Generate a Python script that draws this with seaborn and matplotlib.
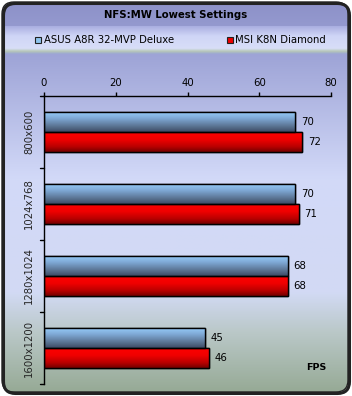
import numpy as np
import pandas as pd
import matplotlib
matplotlib.use("Agg")
import matplotlib.pyplot as plt
import seaborn as sns
from matplotlib.patches import FancyBboxPatch, Rectangle
from matplotlib.colors import LinearSegmentedColormap
from matplotlib import font_manager

title = "NFS:MW Lowest Settings"
resolutions = ["800x600", "1024x768", "1280x1024", "1600x1200"]
series_names = ["ASUS A8R 32-MVP Deluxe", "MSI K8N Diamond"]
asus_fps = [70, 70, 68, 45]
msi_fps = [72, 71, 68, 46]
x_ticks = [0, 20, 40, 60, 80]
unit_label = "FPS"

df = pd.DataFrame({
    "res": resolutions * 2,
    "fps": asus_fps + msi_fps,
    "board": [series_names[0]] * 4 + [series_names[1]] * 4,
})

sns.set_style("white")
names = {f.name for f in font_manager.fontManager.ttflist}
fam = "DejaVu Sans Condensed" if "DejaVu Sans Condensed" in names else "DejaVu Sans"
plt.rcParams["font.family"] = [fam, "DejaVu Sans"]
FS = 8.0 if fam == "DejaVu Sans Condensed" else 7.3

W, H = 352, 396
fig = plt.figure(figsize=(W / 100, H / 100), dpi=100)
fig.patch.set_facecolor("white")

# background panel
bg = fig.add_axes([0, 0, 1, 1], zorder=0)
bg.set_xlim(0, W)
bg.set_ylim(H, 0)
bg.axis("off")
bg.add_patch(Rectangle((0, 0), W, H, facecolor="white", edgecolor="none"))
stops = [(0.0, "#8c90c8"), (0.15, "#a0a6d8"), (0.45, "#d2d9f8"), (0.74, "#d2daf4"),
         (0.84, "#bac8c8"), (1.0, "#94a892")]
cmap_bg = LinearSegmentedColormap.from_list("bg", stops)
grad = np.linspace(0, 1, 256).reshape(-1, 1)
panel = FancyBboxPatch((2, 2), W - 6, H - 6, boxstyle="round,pad=0,rounding_size=12",
                       facecolor="none", edgecolor="none", transform=bg.transData)
bg.add_patch(panel)
im = bg.imshow(grad, cmap=cmap_bg, extent=[0, W, H, 0], aspect="auto", zorder=1)
im.set_clip_path(panel)
# legend band
band_stops = [(0.0, "#a9aee0"), (0.35, "#cfd5f6"), (0.8, "#d8def8"), (0.9, "#b8c8b8"), (1.0, "#9aa6d4")]
cmap_band = LinearSegmentedColormap.from_list("band", band_stops)
im2 = bg.imshow(grad, cmap=cmap_band, extent=[2, W - 4, 54, 26], aspect="auto", zorder=2)
im2.set_clip_path(panel)
# border: shadow on right/bottom
bg.add_patch(FancyBboxPatch((3.5, 3.5), W - 6, H - 6, boxstyle="round,pad=0,rounding_size=12",
                            facecolor="none", edgecolor="#222222", lw=2.2, zorder=3))
bg.add_patch(FancyBboxPatch((2, 2), W - 6, H - 6, boxstyle="round,pad=0,rounding_size=12",
                            facecolor="none", edgecolor="#222222", lw=1.0, zorder=4))
bg.text(176, 15, title, ha="center", va="center", fontsize=FS, fontweight="bold", color="#000000", zorder=5)
# legend
bg.add_patch(Rectangle((35, 37), 6, 6, facecolor="#8ec4ee", edgecolor="#222222", lw=0.8, zorder=5))
bg.text(44, 40, series_names[0], ha="left", va="center", fontsize=FS, color="#000000", zorder=5)
bg.add_patch(Rectangle((227, 37), 6, 6, facecolor="#ee0000", edgecolor="#222222", lw=0.8, zorder=5))
bg.text(235, 40, series_names[1], ha="left", va="center", fontsize=FS, color="#000000", zorder=5)
bg.text(316, 367, unit_label, ha="center", va="center", fontsize=FS - 0.5, fontweight="bold", color="#000000", zorder=5)

# main axes
ax = fig.add_axes([44 / W, 1 - 384 / H, (331 - 44) / W, (384 - 96) / H], zorder=2)
ax.patch.set_alpha(0)
sns.barplot(data=df, y="res", x="fps", hue="board", order=resolutions, hue_order=series_names,
            palette=["#8ec4ee", "#ee0000"], width=0.56, gap=0, edgecolor="black", linewidth=1.0,
            legend=False, ax=ax, orient="h")
ax.set_xlim(0, 80)
ax.set_ylim(3.5, -0.5)
ax.set_xticks(x_ticks)
ax.set_xticklabels([str(t) for t in x_ticks])
ax.xaxis.tick_top()
ax.set_xlabel("")
ax.set_ylabel("")
ax.set_yticks(range(len(resolutions)))
ax.set_yticklabels(resolutions, rotation=90, va="center", fontsize=FS)
ax.tick_params(axis="y", length=0, pad=7)
ax.tick_params(axis="x", length=3, width=1, direction="out", pad=3, labelsize=FS, colors="black")
for s in ["right", "bottom"]:
    ax.spines[s].set_visible(False)
for s in ["left", "top"]:
    ax.spines[s].set_color("black")
    ax.spines[s].set_linewidth(1.0)
# category boundary ticks on left
for yb in [-0.5, 0.5, 1.5, 2.5, 3.5]:
    ax.plot([-1.1, 0], [yb, yb], color="black", lw=1, clip_on=False)

cm_blue = LinearSegmentedColormap.from_list("b", [(0, "#9ad0ff"), (0.35, "#7ea8d4"), (0.75, "#58708e"), (1, "#3c4a64")])
cm_red = LinearSegmentedColormap.from_list("r", [(0, "#ff0000"), (0.4, "#f00000"), (0.75, "#b80000"), (1, "#720000")])
for i, cont in enumerate(ax.containers):
    cmap = cm_blue if i == 0 else cm_red
    for bar in cont:
        x0, y0 = bar.get_x(), bar.get_y()
        w, h = bar.get_width(), bar.get_height()
        gi = ax.imshow(grad, cmap=cmap, extent=[x0, x0 + w, y0 + h, y0], aspect="auto",
                       zorder=bar.get_zorder() + 0.1, interpolation="bilinear")
        gi.set_clip_path(bar)
        bar.set_facecolor("none")
        ax.add_patch(Rectangle((x0, y0), w, h, facecolor="none", edgecolor="black", lw=1.0,
                               zorder=bar.get_zorder() + 0.2))
    ax.bar_label(cont, labels=[str(int(v)) for v in cont.datavalues], padding=4, fontsize=FS, color="black")
ax.set_xlim(0, 80)
ax.set_ylim(3.5, -0.5)

fig.savefig("out.png", dpi=100)
